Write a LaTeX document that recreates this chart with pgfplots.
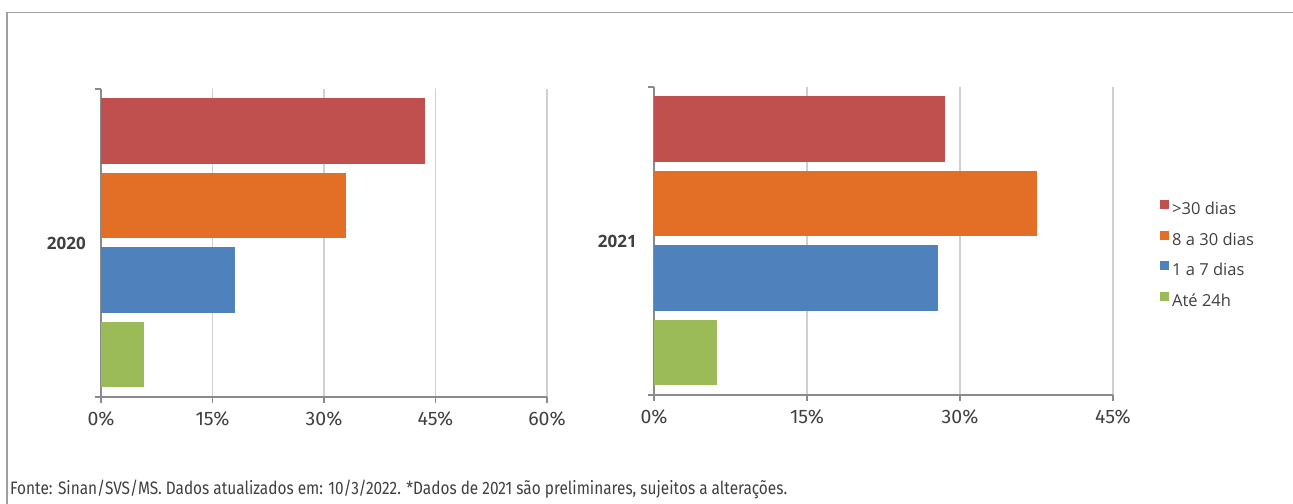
\documentclass[border=0pt]{standalone}
\usepackage{fontspec}
\usepackage{pgfplots}
\pgfplotsset{compat=1.18}
\setmainfont{Open Sans}
\newfontfamily\fira{Fira Sans}
\newfontfamily\firacond[FakeStretch=0.855]{Fira Sans}
\definecolor{cRed}{HTML}{C0504D}
\definecolor{cOrange}{HTML}{E36F26}
\definecolor{cBlue}{HTML}{4F81BD}
\definecolor{cGreen}{HTML}{9BBB59}
\definecolor{axGray}{HTML}{8A8A8A}
\definecolor{gridGray}{HTML}{D0D0D0}
\definecolor{frameGray}{HTML}{A0A0A0}
\definecolor{txtGray}{HTML}{404040}
\pgfplotsset{
  mystyle/.style={
    anchor=south west, scale only axis, height=308bp,
    xmin=0, ymin=0.43, ymax=4.56,
    xbar, bar width=0.88, bar shift=0pt,
    axis x line*=bottom, axis y line*=left,
    axis line style={draw=axGray, line width=1.5bp},
    ytick={0.43,4.56}, yticklabels={},
    tick align=outside, major tick length=6bp,
    tick style={draw=axGray, line width=1.5bp},
    xmajorgrids, grid style={draw=gridGray, line width=1.5bp},
    xticklabel style={font=\fira\fontsize{19.5bp}{22bp}\selectfont, text=txtGray, yshift=-5bp},
    every axis plot/.append style={draw=none},
    clip=false,
  }
}
\begin{document}
\begin{tikzpicture}
\useasboundingbox (0,0) rectangle (1293bp,504bp);
\draw[draw=frameGray, line width=1.5bp] (7bp,0) -- (7bp,491.5bp) -- (1293bp,491.5bp);
\begin{axis}[mystyle, at={(101bp,107bp)}, width=446bp, xmax=60,
  xtick={0,15,30,45,60}, xticklabels={0\%,15\%,30\%,45\%,60\%}]
\addplot[fill=cRed] coordinates {(43.6,4)};
\addplot[fill=cOrange] coordinates {(33.0,3)};
\addplot[fill=cBlue] coordinates {(18.0,2)};
\addplot[fill=cGreen] coordinates {(5.8,1)};
\node[anchor=east, inner sep=0, xshift=-15bp, text=txtGray,
  font=\bfseries\fontsize{17bp}{20bp}\selectfont] at (rel axis cs:0,0.5) {2020};
\end{axis}
\begin{axis}[mystyle, at={(654bp,109bp)}, width=459bp, xmax=45,
  xtick={0,15,30,45}, xticklabels={0\%,15\%,30\%,45\%},
  legend style={at={(1.0959,0.6396)}, anchor=north west, draw=none, fill=none,
    font=\fontsize{16.5bp}{19bp}\selectfont, text=txtGray,
    nodes={inner sep=0pt, text height=12bp, text depth=4bp},
    row sep=12bp, column sep=3bp},
  legend cell align=left,
  legend image code/.code={\fill[#1,draw=none] (0bp,1.5bp) rectangle (9bp,10.5bp);}]
\addplot[fill=cRed] coordinates {(28.5,4)};
\addplot[fill=cOrange] coordinates {(37.5,3)};
\addplot[fill=cBlue] coordinates {(27.8,2)};
\addplot[fill=cGreen] coordinates {(6.2,1)};
\legend{>30 dias, 8 a 30 dias, 1 a 7 dias, Até 24h}
\node[anchor=east, inner sep=0, xshift=-17bp, text=txtGray,
  font=\bfseries\fontsize{17bp}{20bp}\selectfont] at (rel axis cs:0,0.5) {2021};
\end{axis}
\node[anchor=base west, inner sep=0, text=txtGray,
  font=\firacond\fontsize{18bp}{20bp}\selectfont] at (10bp,10bp)
  {Fonte: Sinan/SVS/MS. Dados atualizados em: 10/3/2022. *Dados de 2021 são preliminares, sujeitos a alterações.};
\end{tikzpicture}
\end{document}
